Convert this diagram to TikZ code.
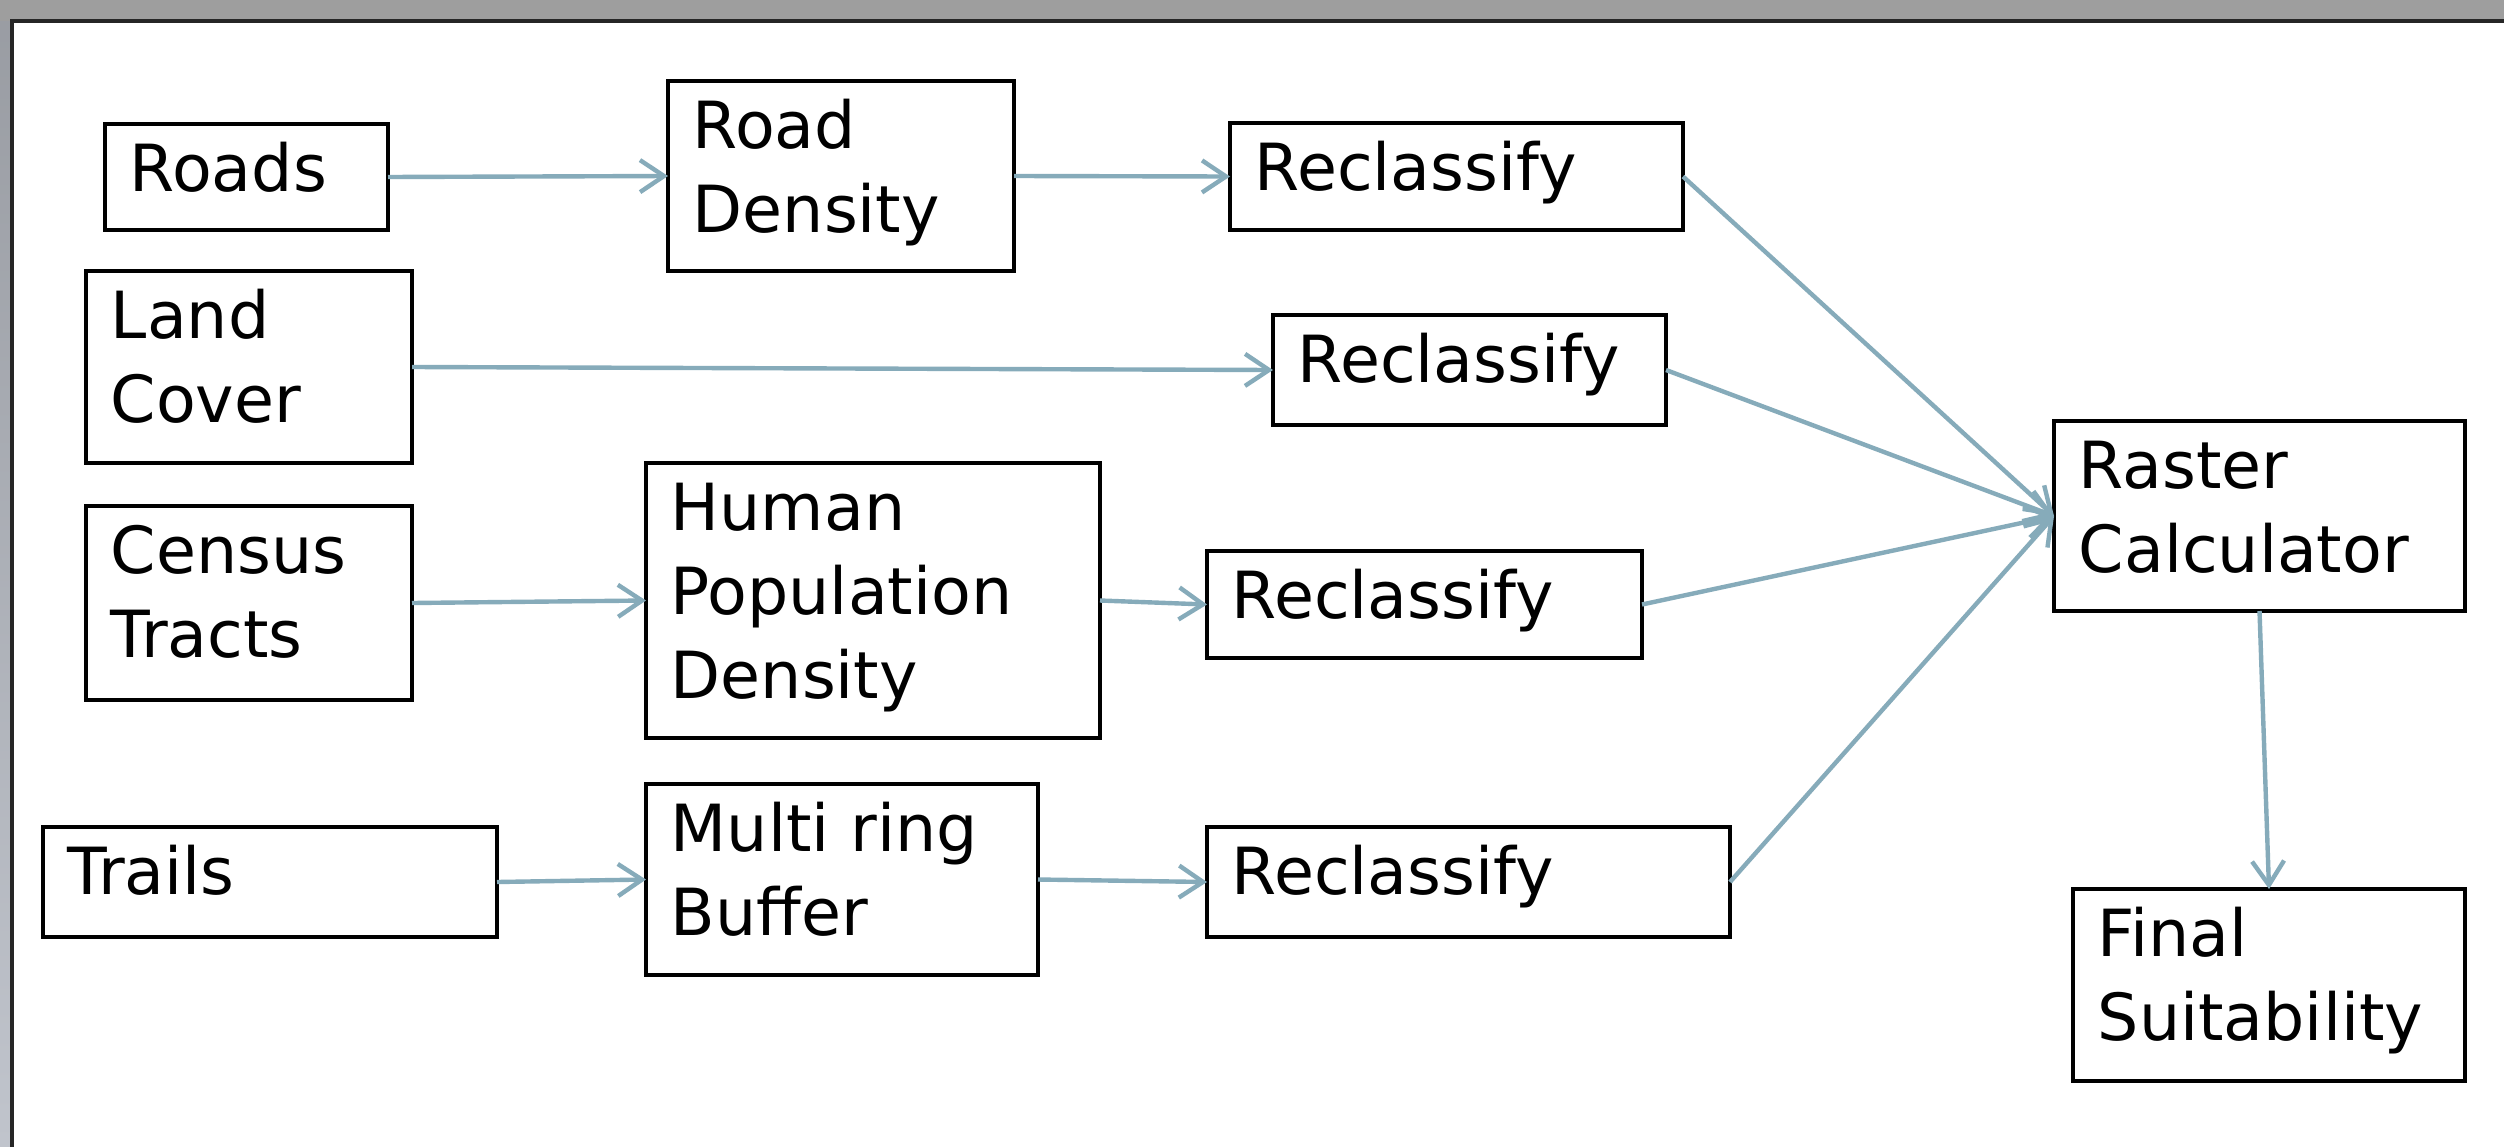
\documentclass[tikz,border=0pt]{standalone}
\usepackage{fontspec}
\setmainfont{DejaVu Sans}
\usetikzlibrary{arrows.meta,calc}
\definecolor{arrowblue}{RGB}{134,171,186}
\definecolor{bggray}{RGB}{158,158,158}
\definecolor{stripgray}{RGB}{192,196,204}
\newcommand\flowbox[6]{%
  \node[bx, minimum width={(#4-#2)*0.25pt}, minimum height={(#5-#3)*0.25pt}, anchor=north west] (#1) at (#2,#3) {};
  \node[lbl] (#1-t) at ($(#1.north west)+(24,7)$) {\rule{0pt}{15pt}#6};
}
\begin{document}
\begin{tikzpicture}[x=0.25pt,y=-0.25pt,
  bx/.style={draw=black, line width=1pt, fill=white, inner sep=0pt, outer sep=0pt},
  lbl/.style={anchor=north west, inner sep=0pt, align=left, font=\fontsize{16.25pt}{21pt}\selectfont},
  flow/.style={draw=arrowblue, line width=1.1pt, -{Straight Barb[length=6pt,width=8pt]}}]
\useasboundingbox (0,0) rectangle (2504,1146);
% background and panel
\fill[bggray] (0,0) rectangle (2504,1146);
\shade[top color=stripgray!80!black, bottom color=stripgray] (0,21) rectangle (12,1146);
\draw[fill=white, draw=black!85, line width=1pt] (12,21) rectangle (2540,1180);
% boxes
\flowbox{roads}{105}{124}{388}{230}{Roads}
\flowbox{rd}{668}{81}{1014}{271}{Road\\Density}
\flowbox{rc1}{1230}{123}{1683}{230}{Reclassify}
\flowbox{lc}{86}{271}{412}{463}{Land\\Cover}
\flowbox{rc2}{1273}{315}{1666}{425}{Reclassify}
\flowbox{ct}{86}{506}{412}{700}{Census\\Tracts}
\flowbox{hpd}{646}{463}{1100}{738}{Human\\Population\\Density}
\flowbox{rc3}{1207}{551}{1642}{658}{Reclassify}
\flowbox{tr}{43}{827}{497}{937}{Trails}
\flowbox{mrb}{646}{784}{1038}{975}{Multi ring\\Buffer}
\flowbox{rc4}{1207}{827}{1730}{937}{Reclassify}
\flowbox{rast}{2054}{421}{2465}{611}{Raster\\Calculator}
\flowbox{fin}{2073}{889}{2465}{1081}{Final\\Suitability}
% connectors
\draw[flow] (roads.east) -- (rd.west);
\draw[flow] (rd.east) -- (rc1.west);
\draw[flow] (lc.east) -- (rc2.west);
\draw[flow] (ct.east) -- (hpd.west);
\draw[flow] (hpd.east) -- (rc3.west);
\draw[flow] (tr.east) -- (mrb.west);
\draw[flow] (mrb.east) -- (rc4.west);
\draw[flow] (rc1.east) -- (rast.west);
\draw[flow] (rc2.east) -- (rast.west);
\draw[flow] (rc3.east) -- (rast.west);
\draw[flow] (rc4.east) -- (rast.west);
\draw[flow] (rast.south) -- (fin.north);
\end{tikzpicture}
\end{document}
